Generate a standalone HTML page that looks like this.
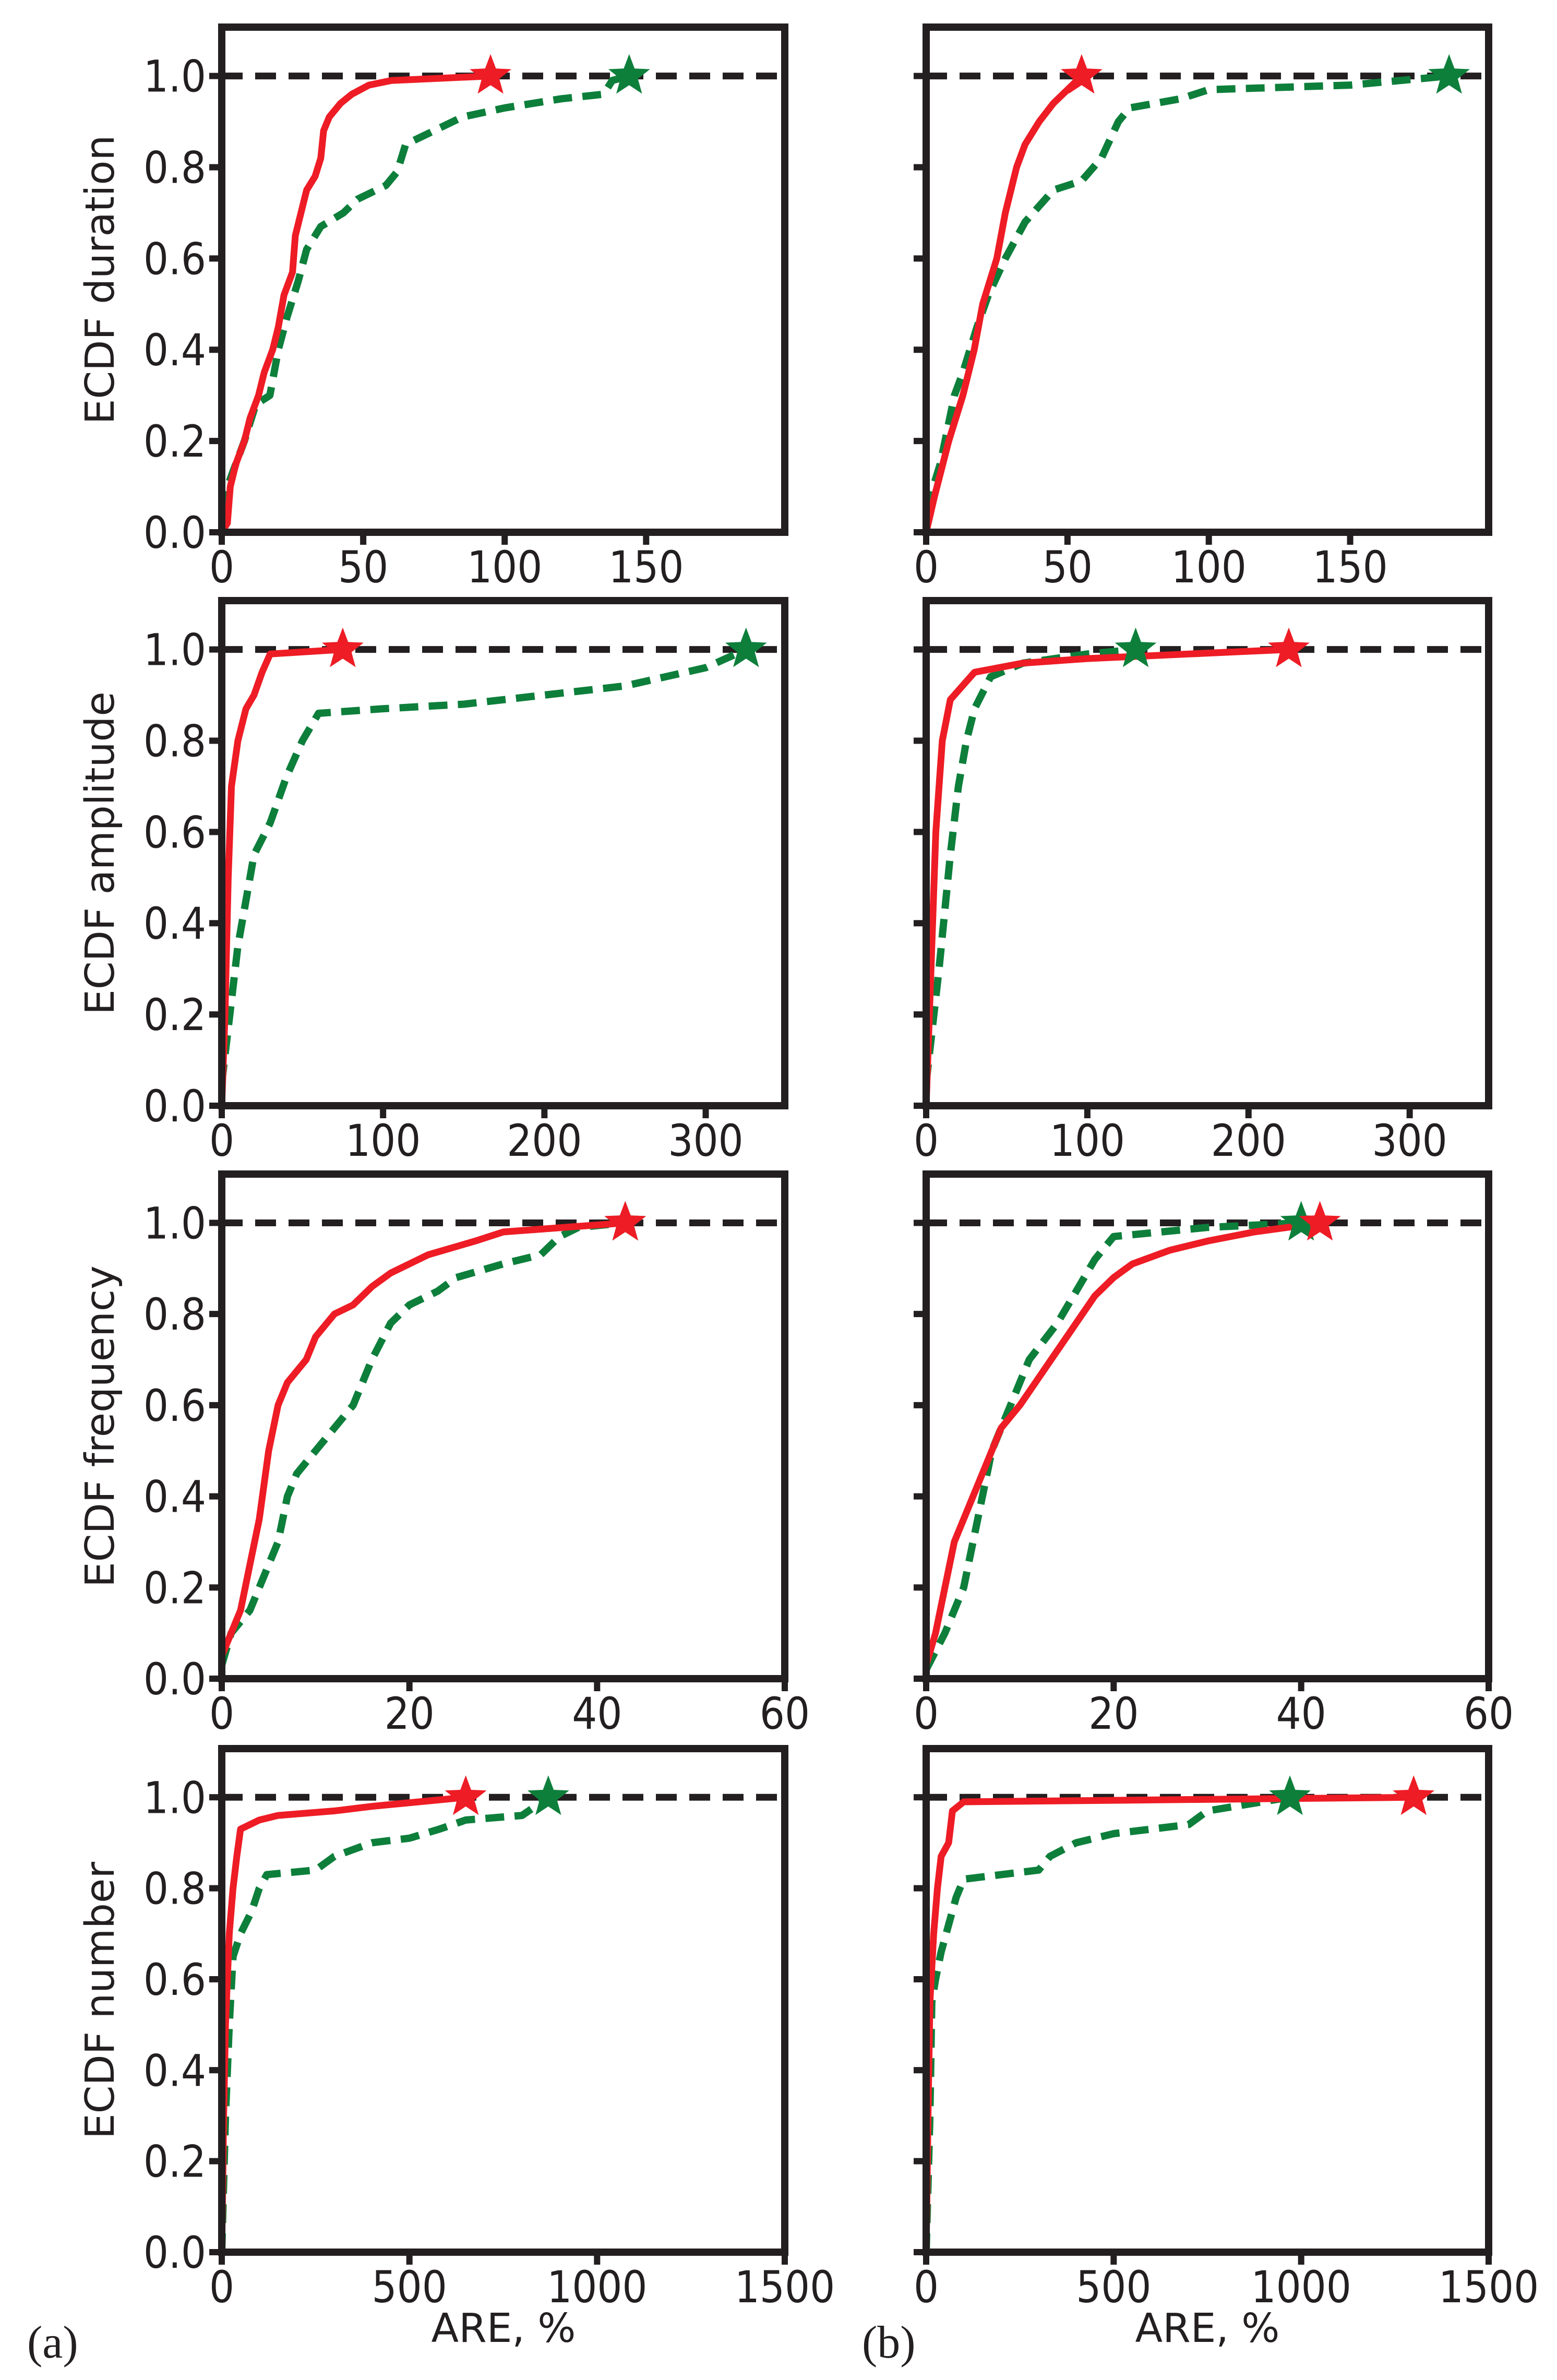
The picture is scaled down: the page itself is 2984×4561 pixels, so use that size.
<!DOCTYPE html>
<html><head><meta charset="utf-8">
<style>
html,body{margin:0;padding:0;background:#fff;}
svg{display:block;}
.tk{font-family:"DejaVu Sans Condensed","DejaVu Sans","Liberation Sans",sans-serif;font-stretch:condensed;font-size:84px;fill:#231f20;}
.lab{font-family:"DejaVu Sans","Liberation Sans",sans-serif;font-size:77px;fill:#231f20;}
.pl{font-family:"Liberation Serif",serif;font-size:88px;fill:#231f20;}
</style></head>
<body>
<svg id="fig" width="2984" height="4561" viewBox="0 0 2984 4561" xmlns="http://www.w3.org/2000/svg"></svg>
<script>
// ---- data ----
const panelNames = ["duration-a","duration-b","amplitude-a","amplitude-b","frequency-a","frequency-b","number-a","number-b"];
const yLabels = ["ECDF duration","ECDF amplitude","ECDF frequency","ECDF number"];
const xMaxes = [199,199,349,349,60,60,1500,1500];
const xTicks1 = [0,50,100,150];
const xTicks2 = [0,100,200,300];
const xTicks3 = [0,20,40,60];
const xTicks4 = [0,500,1000,1500];
const yTicks = [0.0,0.2,0.4,0.6,0.8,1.0];
const yTickLabels = ["0.0","0.2","0.4","0.6","0.8","1.0"];

const red1 = [[0,0],[2,0.02],[3,0.1],[5,0.15],[8,0.2],[10,0.25],[13,0.3],[15,0.35],[18,0.4],[20,0.45],[22,0.52],[25,0.57],[26,0.65],[28,0.7],[30,0.75],[33,0.78],[35,0.82],[36,0.88],[38,0.91],[42,0.94],[46,0.96],[52,0.98],[60,0.99],[95,1.0]];
const green1 = [[0,0.05],[2,0.1],[5,0.15],[8,0.2],[12,0.28],[17,0.3],[20,0.4],[23,0.47],[27,0.55],[30,0.62],[35,0.67],[43,0.7],[48,0.73],[58,0.76],[62,0.79],[65,0.85],[75,0.88],[85,0.91],[100,0.93],[120,0.95],[135,0.96],[138,0.99],[144,1.0]];
const red2 = [[0,0],[3,0.08],[8,0.2],[13,0.3],[17,0.4],[20,0.5],[25,0.6],[28,0.7],[32,0.8],[35,0.85],[40,0.9],[45,0.94],[50,0.97],[55,1.0]];
const green2 = [[0,0.05],[5,0.15],[10,0.3],[13,0.35],[18,0.45],[22,0.52],[28,0.6],[35,0.68],[45,0.75],[55,0.77],[62,0.82],[68,0.9],[72,0.93],[90,0.95],[100,0.97],[150,0.98],[185,1.0]];
const red3 = [[0,0],[2,0.2],[4,0.5],[6,0.7],[10,0.8],[15,0.87],[20,0.9],[25,0.95],[30,0.99],[75,1.0]];
const green3 = [[0,0.05],[5,0.2],[10,0.35],[15,0.45],[20,0.55],[30,0.62],[40,0.72],[50,0.8],[60,0.86],[100,0.87],[150,0.88],[200,0.9],[250,0.92],[300,0.96],[325,1.0]];
const red4 = [[0,0],[3,0.3],[6,0.6],[10,0.8],[15,0.89],[25,0.93],[30,0.95],[60,0.97],[100,0.98],[225,1.0]];
const green4 = [[0,0.05],[8,0.3],[15,0.55],[20,0.7],[25,0.8],[30,0.87],[40,0.94],[60,0.97],[100,0.99],[130,1.0]];
const red5 = [[0,0.05],[1,0.1],[2,0.15],[3,0.25],[4,0.35],[5,0.5],[6,0.6],[7,0.65],[9,0.7],[10,0.75],[12,0.8],[14,0.82],[16,0.86],[18,0.89],[22,0.93],[27,0.96],[30,0.98],[43,1.0]];
const green5 = [[0,0.03],[1,0.1],[3,0.15],[4,0.2],[5,0.25],[6,0.3],[7,0.4],[8,0.45],[10,0.5],[12,0.55],[14,0.6],[15,0.65],[16,0.7],[18,0.78],[20,0.82],[23,0.85],[25,0.88],[30,0.91],[34,0.93],[36,0.97],[38,0.99],[43,1.0]];
const red6 = [[0,0.03],[1,0.1],[2,0.2],[3,0.3],[5,0.4],[7,0.5],[8,0.55],[10,0.6],[12,0.66],[14,0.72],[16,0.78],[18,0.84],[20,0.88],[22,0.91],[26,0.94],[30,0.96],[35,0.98],[42,1.0]];
const green6 = [[0,0.02],[2,0.1],[4,0.2],[5,0.3],[6,0.4],[7,0.5],[9,0.6],[11,0.7],[14,0.78],[16,0.85],[18,0.92],[20,0.97],[25,0.98],[30,0.99],[40,1.0]];
const red7 = [[0,0],[5,0.3],[10,0.5],[20,0.7],[30,0.8],[40,0.87],[50,0.93],[100,0.95],[150,0.96],[300,0.97],[400,0.98],[650,1.0]];
const green7 = [[0,0],[10,0.3],[20,0.5],[30,0.65],[50,0.7],[80,0.75],[100,0.8],[120,0.83],[250,0.84],[300,0.87],[400,0.9],[500,0.91],[580,0.93],[650,0.95],[800,0.96],[870,1.0]];
const red8 = [[0,0],[5,0.3],[10,0.55],[20,0.7],[30,0.8],[40,0.87],[60,0.9],[70,0.97],[100,0.99],[1300,1.0]];
const green8 = [[0,0],[10,0.3],[15,0.55],[25,0.6],[40,0.66],[60,0.72],[80,0.78],[100,0.82],[300,0.84],[330,0.87],[400,0.9],[500,0.92],[700,0.94],[750,0.97],[970,1.0]];

const redSeries = [red1,red2,red3,red4,red5,red6,red7,red8];
const greenSeries = [green1,green2,green3,green4,green5,green6,green7,green8];
const xTickSets = [xTicks1,xTicks1,xTicks2,xTicks2,xTicks3,xTicks3,xTicks4,xTicks4];

// ---- layout ----
const NS="http://www.w3.org/2000/svg";
const svg=document.getElementById('fig');
const colX=[[425,1504],[1775,2853]];
const rowY=[[52,1020],[1151,2119],[2250,3217],[3351,4316]];
const YMAX=1.107;
const INK="#231f20", RED="#ee1c25", GREEN="#0d7f3b";

function mk(tag,attrs,parent){const e=document.createElementNS(NS,tag);for(const k in attrs)e.setAttribute(k,attrs[k]);(parent||svg).appendChild(e);return e;}
function starPts(cx,cy,R){const r=R*0.42;let p=[];for(let i=0;i<10;i++){const a=-Math.PI/2+i*Math.PI/5;const rr=i%2?r:R;p.push((cx+rr*Math.cos(a)).toFixed(1)+","+(cy+rr*Math.sin(a)).toFixed(1));}return p.join(" ");}

for(let i=0;i<8;i++){
  const c=i%2, r=Math.floor(i/2);
  const [x0,x1]=colX[c], [y0,y1]=rowY[r];
  const xm=xMaxes[i];
  const sx=v=>x0+v/xm*(x1-x0);
  const sy=v=>y1-v/YMAX*(y1-y0);
  const g=mk('g',{});
  
  
  const clipId='clip'+i;
  const cp=mk('clipPath',{id:clipId},g);
  mk('rect',{x:x0,y:y0,width:x1-x0,height:y1-y0},cp);
  const ref=mk('line',{x1:x0,x2:x1,y1:sy(1),y2:sy(1),stroke:INK,'stroke-width':13,'stroke-dasharray':'40,24'},g);
  
  
  const dg=mk('g',{'clip-path':'url(#'+clipId+')'},g);
  const gp=mk('polyline',{points:greenSeries[i].map(p=>sx(p[0]).toFixed(1)+","+sy(p[1]).toFixed(1)).join(" "),fill:'none',stroke:GREEN,'stroke-width':14,'stroke-dasharray':'36,20','stroke-linejoin':'round'},dg);
  
  
  const rp=mk('polyline',{points:redSeries[i].map(p=>sx(p[0]).toFixed(1)+","+sy(p[1]).toFixed(1)).join(" "),fill:'none',stroke:RED,'stroke-width':13,'stroke-linejoin':'round'},dg);
  
  
  const gl=greenSeries[i][greenSeries[i].length-1], rl=redSeries[i][redSeries[i].length-1];
  const gs=mk('polygon',{points:starPts(sx(gl[0]),sy(gl[1]),42),fill:GREEN},g);
  
  
  const rs=mk('polygon',{points:starPts(sx(rl[0]),sy(rl[1]),42),fill:RED},g);
  
  
  const fr=mk('rect',{x:x0,y:y0,width:x1-x0,height:y1-y0,fill:'none',stroke:INK,'stroke-width':14},g);
  
  
  xTickSets[i].forEach(t=>{
    const X=sx(t);
    const tl=mk('line',{x1:X,x2:X,y1:y1,y2:y1+24,stroke:INK,'stroke-width':12},g);
    
    
    const tx=mk('text',{x:X,y:y1+96,'text-anchor':'middle',class:'tk'},g);
    tx.textContent=String(t);
    
    
  });
  yTicks.forEach((t,k)=>{
    const Y=sy(t);
    const tl=mk('line',{x1:x0-24,x2:x0,y1:Y,y2:Y,stroke:INK,'stroke-width':12},g);
    
    
    if(c===0){
      const tx=mk('text',{x:x0-30,y:Y+30,'text-anchor':'end',class:'tk'},g);
      tx.textContent=yTickLabels[k];
      
      
    }
  });
  if(c===0){
    const cy=(y0+y1)/2;
    const yl=mk('text',{x:0,y:0,'text-anchor':'middle',class:'lab',transform:'translate(218,'+cy+') rotate(-90)'},g);
    yl.textContent=yLabels[r];
    
    
  }
}
[[965,'ARE, %'],[2314,'ARE, %']].forEach(a=>{
  const t=mk('text',{x:a[0],y:4488,'text-anchor':'middle',class:'lab'});
  t.textContent=a[1];
  
  
});
[[52,'(a)'],[1652,'(b)']].forEach(a=>{
  const t=mk('text',{x:a[0],y:4518,class:'pl'});
  t.textContent=a[1];
  
  
});
</script>
</body></html>
